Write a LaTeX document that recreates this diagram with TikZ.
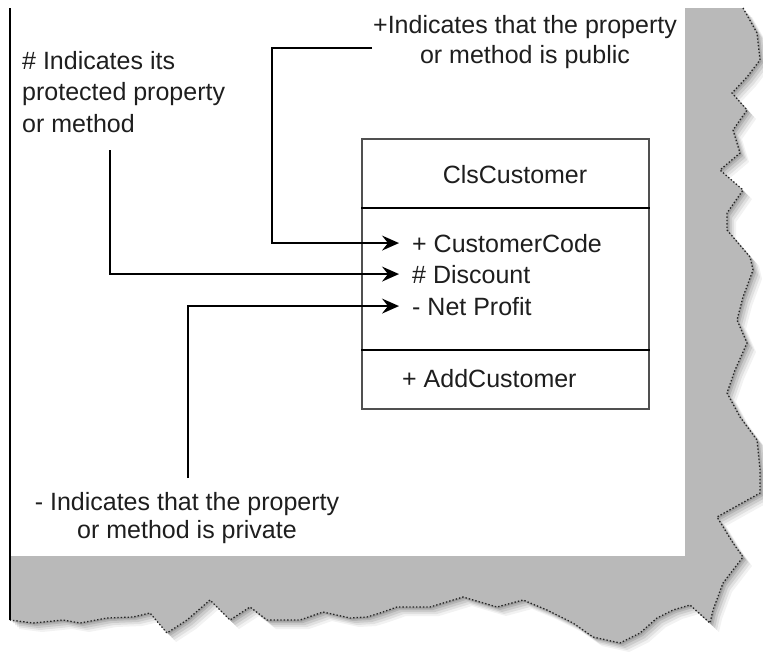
\documentclass[tikz,border=0pt]{standalone}
\usepackage{fontspec}
\setmainfont{Liberation Sans}
\usetikzlibrary{arrows.meta}
\definecolor{txtc}{HTML}{1E1E1E}
\definecolor{band}{HTML}{B9B9B9}
\definecolor{boxc}{HTML}{505050}
\tikzset{
  tornedge/.style={insert path={(10,8) -- (743,8) -- (757,33) -- (760,60) -- (747,77) -- (732,93) -- (747,110) -- (733,130) -- (740,153) -- (720,170) -- (743,190) -- (727,213) -- (727,230) -- (750,257) -- (753,270) -- (743,297) -- (737,320) -- (747,343) -- (735,370) -- (727,393) -- (740,417) -- (757,440) -- (760,470) -- (760,493) -- (717,517) -- (733,543) -- (743,557) -- (723,583) -- (713,610) -- (710,623) -- (690,605) -- (673,610) -- (657,618) -- (640,633) -- (620,643) -- (593,637) -- (573,623) -- (547,610) -- (523,600) -- (497,607) -- (463,597) -- (430,607) -- (397,607) -- (380,613) -- (367,617) -- (350,618) -- (323,612) -- (300,620) -- (267,620) -- (250,607) -- (230,620) -- (210,600) -- (187,620) -- (167,633) -- (150,613) -- (133,617) -- (107,618) -- (80,623) -- (63,620) -- (33,623) -- (10,620) -- cycle}},
  tornline/.style={insert path={(743,8) -- (757,33) -- (760,60) -- (747,77) -- (732,93) -- (747,110) -- (733,130) -- (740,153) -- (720,170) -- (743,190) -- (727,213) -- (727,230) -- (750,257) -- (753,270) -- (743,297) -- (737,320) -- (747,343) -- (735,370) -- (727,393) -- (740,417) -- (757,440) -- (760,470) -- (760,493) -- (717,517) -- (733,543) -- (743,557) -- (723,583) -- (713,610) -- (710,623) -- (690,605) -- (673,610) -- (657,618) -- (640,633) -- (620,643) -- (593,637) -- (573,623) -- (547,610) -- (523,600) -- (497,607) -- (463,597) -- (430,607) -- (397,607) -- (380,613) -- (367,617) -- (350,618) -- (323,612) -- (300,620) -- (267,620) -- (250,607) -- (230,620) -- (210,600) -- (187,620) -- (167,633) -- (150,613) -- (133,617) -- (107,618) -- (80,623) -- (63,620) -- (33,623) -- (10,620)}}
}
\begin{document}
\begin{tikzpicture}[x=1pt,y=-1pt,
  txt/.style={inner sep=0pt, text=txtc, font=\fontsize{25}{30}\selectfont},
  attr/.style={txt, anchor=base west, inner xsep=13pt},
  conn/.style={line width=1.8pt, black, -{Stealth[length=17pt,width=15pt,inset=6pt]}},
  divider/.style={line width=1.6pt, black}]
\useasboundingbox (0,0) rectangle (763,654);
\fill[white] (0,0) rectangle (763,654);
% paper with torn shadow band
\foreach \o/\a in {9/0.05,7/0.07,5/0.09,3/0.11,1.5/0.12}{
  \fill[black, opacity=\a, shift={(\o,\o)}, tornedge];
}
\fill[band, tornedge];
\fill[white] (10,8) rectangle (685,556);
\draw[black!85, line width=1.3pt, dash pattern=on 1.4pt off 2pt, tornline];
\draw[black, line width=1.5pt] (10,8) -- (10,620);
% class box
\node[draw=boxc, line width=2pt, minimum width=287pt, minimum height=270pt, inner sep=0pt, anchor=north west] (cls) at (361,138) {};
\draw[divider] (cls.west |- 0,208) -- (cls.east |- 0,208);
\draw[divider] (cls.west |- 0,350) -- (cls.east |- 0,350);
\node[txt, anchor=base] (title) at (515,183) {ClsCustomer};
\node[attr] (a1) at (399,252) {+ CustomerCode};
\node[attr] (a2) at (399,283) {\# Discount};
\node[attr] (a3) at (399,315) {- Net Profit};
\node[txt, anchor=base west] (m1) at (402,387) {+ AddCustomer};
% annotations (base anchor = baseline of the last line)
\node[txt, align=center, anchor=base, font=\fontsize{25}{30}\selectfont] (pub) at (525,63) {+Indicates that the property\\or method is public};
\node[txt, align=left, anchor=base west, font=\fontsize{25}{31.5}\selectfont] (prot) at (22,132) {\# Indicates its\\protected property\\or method};
\node[txt, align=center, anchor=base, font=\fontsize{25}{28}\selectfont] (priv) at (187,538) {- Indicates that the property\\or method is private};
% connectors
\coordinate (pubstart) at (372,48);
\coordinate (protstart) at (110,150);
\coordinate (privstart) at (188,478);
\draw[conn] (pubstart) -- (272,48) |- (a1.west);
\draw[conn] (protstart) |- (a2.west);
\draw[conn] (privstart) |- (a3.west);
\end{tikzpicture}
\end{document}
